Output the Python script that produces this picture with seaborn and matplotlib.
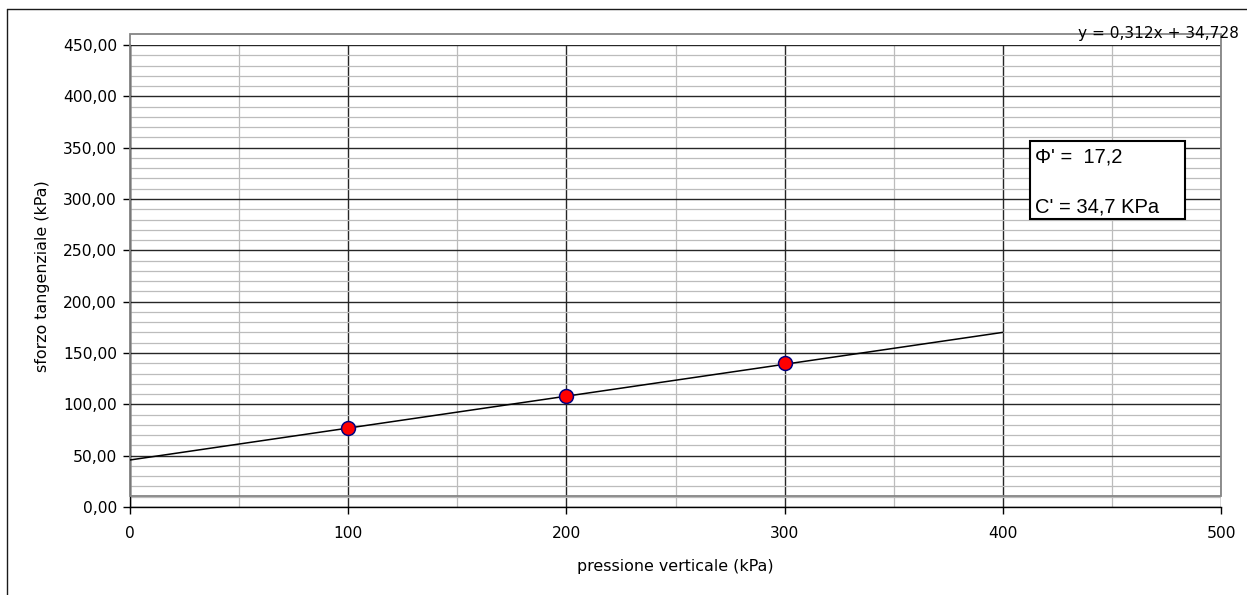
import matplotlib
matplotlib.use("Agg")
import matplotlib.pyplot as plt
import matplotlib.patches as mpatches
import matplotlib.lines as mlines
import seaborn as sns
import pandas as pd
import numpy as np
from matplotlib.ticker import FuncFormatter, MultipleLocator

# ---- data ----
pressione = [100, 200, 300]            # kPa
sforzo = [77.2, 108.4, 139.9]          # kPa
trend_x = [0, 400]
trend_y = [45.8, 170.1]
x_ticks = [0, 100, 200, 300, 400, 500]
y_ticks = [0, 50, 100, 150, 200, 250, 300, 350, 400, 450]
equation = "y = 0,312x + 34,728"
phi_text = "\u03a6' =  17,2"
c_text = "C' = 34,7 KPa"
x_label = "pressione verticale (kPa)"
y_label = "sforzo tangenziale (kPa)"

sns.set_style("white")
plt.rcParams['font.family'] = ['DejaVu Sans']
plt.rcParams['text.color'] = 'black'
plt.rcParams['axes.labelcolor'] = 'black'
plt.rcParams['xtick.color'] = 'black'
plt.rcParams['ytick.color'] = 'black'

W, H = 1247, 595
fig = plt.figure(figsize=(W / 100, H / 100), dpi=100)
ax = fig.add_axes([130 / W, 1 - 507 / H, (1221 - 130) / W, (507 - 45) / H])

pts = pd.DataFrame({"x": pressione, "y": sforzo})
trend = pd.DataFrame({"x": trend_x, "y": trend_y})

sns.lineplot(data=trend, x="x", y="y", ax=ax, color="black", lw=1.1, zorder=4)
sns.scatterplot(data=pts, x="x", y="y", ax=ax, s=100, color="#ff0000",
                edgecolor="#000080", linewidth=1.1, zorder=5)

ax.set_xlim(0, 500)
ax.set_ylim(0, 450)
ax.set_xticks(x_ticks)
ax.set_yticks(y_ticks)
ax.xaxis.set_minor_locator(MultipleLocator(50))
ax.yaxis.set_minor_locator(MultipleLocator(10))
ax.yaxis.set_major_formatter(FuncFormatter(lambda v, p: f"{v:.2f}".replace(".", ",")))
ax.xaxis.set_major_formatter(FuncFormatter(lambda v, p: f"{int(v)}"))

ax.grid(which="minor", color="#bcbcbc", lw=0.9, zorder=0)
ax.grid(which="major", color="#262626", lw=1.0, zorder=1)
ax.set_axisbelow(True)

for s in ["top", "right"]:
    ax.spines[s].set_visible(False)
for s in ["left", "bottom"]:
    ax.spines[s].set_color("black")
    ax.spines[s].set_linewidth(1.0)

ax.tick_params(which="major", direction="out", length=4.8, width=1.0, colors="black",
               labelsize=11.2, left=True, bottom=True)
ax.tick_params(axis="y", which="major", pad=4.5)
ax.tick_params(axis="x", which="major", pad=9)
ax.tick_params(which="minor", length=0)

ax.set_xlabel(x_label, fontsize=11.4, color="black")
ax.set_ylabel(y_label, fontsize=11.4, color="black")
ax.xaxis.set_label_coords(0.5, (507 - 567) / 462)
ax.yaxis.set_label_coords((43 - 130) / 1091, 0.5)
ax.xaxis.label.set_va("center")
ax.yaxis.label.set_va("center")

# gray plot-area frame (secondary frame of the original chart)
frame = mpatches.Rectangle((0, 11), 500, 449.6, fill=False, edgecolor="#858585",
                           lw=1.3, clip_on=False, zorder=3)
ax.add_patch(frame)

# outer chart border (left and top visible)
fig.add_artist(mlines.Line2D([7 / W, 7 / W], [0, 1 - 9 / H], color="#1a1a1a", lw=1.0))
fig.add_artist(mlines.Line2D([7 / W, 1], [1 - 9 / H, 1 - 9 / H], color="#1a1a1a", lw=1.0))

# equation label
fig.text(1239 / W, 1 - 38 / H, equation, ha="right", va="baseline", fontsize=11.1,
         color="black", zorder=10)

# parameter box
box = mpatches.Rectangle((1030 / W, 1 - 219 / H), (1185 - 1030) / W, (219 - 141) / H,
                         transform=fig.transFigure, facecolor="white",
                         edgecolor="black", lw=1.5, zorder=10)
fig.add_artist(box)
fig.text(1035 / W, 1 - 157 / H, phi_text, ha="left", va="center", fontsize=14.5,
         color="black", family=["Liberation Sans", "DejaVu Sans"], zorder=11)
fig.text(1035 / W, 1 - 207 / H, c_text, ha="left", va="center", fontsize=14.5,
         color="black", family=["Liberation Sans", "DejaVu Sans"], zorder=11)

fig.savefig("out.png", dpi=100)
